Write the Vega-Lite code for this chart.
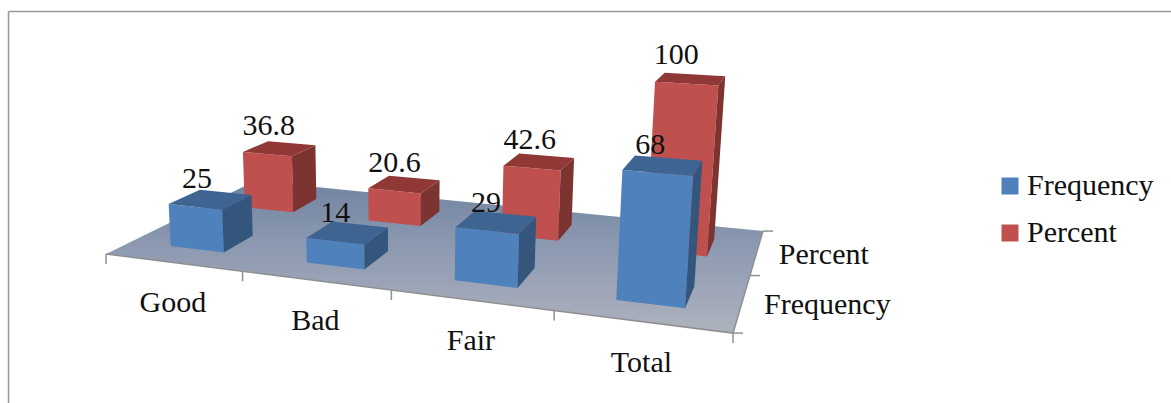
{"$schema":"https://vega.github.io/schema/vega-lite/v6.json","width":1163,"height":392,"padding":{"left":8,"top":11,"right":0,"bottom":0},"autosize":"none","background":"white","config":{"view":{"stroke":null}},
"datasets":{"bars":[{"category":"Good","idx":0,"series":"Frequency","sv":0.2425,"value":25},{"category":"Bad","idx":1,"series":"Frequency","sv":0.2425,"value":14},{"category":"Fair","idx":2,"series":"Frequency","sv":0.2425,"value":29},{"category":"Total","idx":3,"series":"Frequency","sv":0.2425,"value":68},{"category":"Good","idx":0,"series":"Percent","sv":0.7425,"value":36.8},{"category":"Bad","idx":1,"series":"Percent","sv":0.7425,"value":20.6},{"category":"Fair","idx":2,"series":"Percent","sv":0.7425,"value":42.6},{"category":"Total","idx":3,"series":"Percent","sv":0.7425,"value":100}],
"floor":[{"u":0,"v":0,"ord":0},{"u":1,"v":0,"ord":1},{"u":1,"v":1,"ord":2},{"u":0,"v":1,"ord":3},{"u":0,"v":0,"ord":4}],
"xticks":[{"u":0,"v":0},{"u":0.25,"v":0},{"u":0.5,"v":0},{"u":0.75,"v":0},{"u":1,"v":0}],
"vticks":[{"u":1,"v":0},{"u":1,"v":0.5},{"u":1,"v":1}],
"series":[{"name":"Frequency","u":1,"v":0.25},{"name":"Percent","u":1,"v":0.75}]},
"encoding":{"x":{"field":"px","type":"quantitative","scale":{"domain":[8,1171],"nice":false,"zero":false},"axis":{"orient":"top","title":null,"labels":false,"ticks":false,"grid":false,"domain":true,"domainColor":"#999999","domainWidth":1.5}},"y":{"field":"py","type":"quantitative","scale":{"domain":[11,403],"reverse":true,"nice":false,"zero":false},"axis":{"orient":"left","title":null,"labels":false,"ticks":false,"grid":false,"domain":true,"domainColor":"#999999","domainWidth":1.5}}},
"layer":[
{"data":{"name":"floor"},"transform":[{"calculate":"1-0.1647*datum.u+0.244*datum.v","as":"w"},{"calculate":"(506.3*datum.u+211.2*datum.v+106)/datum.w","as":"px"},{"calculate":"(24.2*datum.u-28.8*datum.v+254)/datum.w","as":"py"}],
"mark":{"type":"line","interpolate":"linear","strokeWidth":0,"fill":{"x1":0,"y1":0,"x2":0,"y2":1,"gradient":"linear","stops":[{"offset":0,"color":"#71849f"},{"offset":0.45,"color":"#8e9ab2"},{"offset":1,"color":"#aeb2bd"}]}},"encoding":{"order":{"field":"ord"}}},
{"data":{"name":"floor"},"transform":[{"filter":"datum.ord<=2"},{"calculate":"1-0.1647*datum.u+0.244*datum.v","as":"w"},{"calculate":"(506.3*datum.u+211.2*datum.v+106)/datum.w","as":"px"},{"calculate":"(24.2*datum.u-28.8*datum.v+254)/datum.w","as":"py"}],
"mark":{"type":"line","stroke":"#8f8f8f","strokeWidth":1.5},"encoding":{"order":{"field":"ord"}}},
{"data":{"name":"xticks"},"transform":[{"calculate":"1-0.1647*datum.u+0.244*datum.v","as":"w"},{"calculate":"(506.3*datum.u+211.2*datum.v+106)/datum.w","as":"px"},{"calculate":"(24.2*datum.u-28.8*datum.v+254)/datum.w","as":"py"},{"calculate":"datum.py+10","as":"py2"}],
"mark":{"type":"rule","stroke":"#8f8f8f","strokeWidth":1.5},"encoding":{"y2":{"field":"py2"}}},
{"data":{"name":"vticks"},"transform":[{"calculate":"1-0.1647*datum.u+0.244*datum.v","as":"w"},{"calculate":"(506.3*datum.u+211.2*datum.v+106)/datum.w","as":"px"},{"calculate":"(24.2*datum.u-28.8*datum.v+254)/datum.w","as":"py"},{"calculate":"datum.px+10","as":"px2"}],
"mark":{"type":"rule","stroke":"#8f8f8f","strokeWidth":1.5},"encoding":{"x2":{"field":"px2"}}},
{"data":{"name":"bars"},"transform":[{"filter":"datum.series==='Percent'"},{"calculate":"[{f:'',a:-1,b:0,t:0,o:0},{f:'',a:1,b:0,t:0,o:1},{f:'',a:1,b:0,t:1,o:2},{f:'',a:-1,b:0,t:1,o:3},{f:' side',a:1,b:0,t:0,o:0},{f:' side',a:1,b:1,t:0,o:1},{f:' side',a:1,b:1,t:1,o:2},{f:' side',a:1,b:0,t:1,o:3},{f:' top',a:-1,b:0,t:1,o:0},{f:' top',a:1,b:0,t:1,o:1},{f:' top',a:1,b:1,t:1,o:2},{f:' top',a:-1,b:1,t:1,o:3}]","as":"c"},{"flatten":["c"]},{"calculate":"datum.series+datum.c.f","as":"fk"},{"calculate":"0.125+0.25*datum.idx+0.05*datum.c.a","as":"u"},{"calculate":"datum.sv-0.0975+0.195*datum.c.b","as":"v"},{"calculate":"1-0.1647*datum.u+0.244*datum.v","as":"w"},{"calculate":"(506.3*datum.u+211.2*datum.v+106)/datum.w","as":"x0"},{"calculate":"(24.2*datum.u-28.8*datum.v+254)/datum.w","as":"y0"},{"calculate":"1.72*datum.value*datum.c.t/datum.w","as":"hp"},{"calculate":"datum.x0+datum.hp*0.000213*(datum.x0-395)","as":"px"},{"calculate":"datum.y0-datum.hp","as":"py"},{"calculate":"datum.c.o","as":"ord"},{"calculate":"datum.category+datum.fk","as":"poly"}],
"mark":{"type":"line","strokeWidth":0,"fill":"#c0504d"},"encoding":{"detail":{"field":"poly"},"order":{"field":"ord"},"fill":{"field":"fk","type":"nominal","scale":{"domain":["Frequency","Percent","Frequency side","Frequency top","Percent side","Percent top"],"range":["#4f81bd","#c0504d","#34557c","#3e6592","#7d332f","#8f3836"]},"legend":{"values":["Frequency","Percent"],"orient":"none","legendX":987,"legendY":160,"title":null,"symbolType":"square","symbolSize":289,"symbolStrokeWidth":0,"labelFont":"Liberation Serif","labelFontSize":30,"labelColor":"#111111","labelOffset":2,"rowPadding":17,"labelLimit":300}}}},
{"data":{"name":"bars"},"transform":[{"filter":"datum.series==='Frequency'"},{"calculate":"[{f:'',a:-1,b:0,t:0,o:0},{f:'',a:1,b:0,t:0,o:1},{f:'',a:1,b:0,t:1,o:2},{f:'',a:-1,b:0,t:1,o:3},{f:' side',a:1,b:0,t:0,o:0},{f:' side',a:1,b:1,t:0,o:1},{f:' side',a:1,b:1,t:1,o:2},{f:' side',a:1,b:0,t:1,o:3},{f:' top',a:-1,b:0,t:1,o:0},{f:' top',a:1,b:0,t:1,o:1},{f:' top',a:1,b:1,t:1,o:2},{f:' top',a:-1,b:1,t:1,o:3}]","as":"c"},{"flatten":["c"]},{"calculate":"datum.series+datum.c.f","as":"fk"},{"calculate":"0.125+0.25*datum.idx+0.05*datum.c.a","as":"u"},{"calculate":"datum.sv-0.0975+0.195*datum.c.b","as":"v"},{"calculate":"1-0.1647*datum.u+0.244*datum.v","as":"w"},{"calculate":"(506.3*datum.u+211.2*datum.v+106)/datum.w","as":"x0"},{"calculate":"(24.2*datum.u-28.8*datum.v+254)/datum.w","as":"y0"},{"calculate":"1.72*datum.value*datum.c.t/datum.w","as":"hp"},{"calculate":"datum.x0+datum.hp*0.000213*(datum.x0-395)","as":"px"},{"calculate":"datum.y0-datum.hp","as":"py"},{"calculate":"datum.c.o","as":"ord"},{"calculate":"datum.category+datum.fk","as":"poly"}],
"mark":{"type":"line","strokeWidth":0,"fill":"#4f81bd"},"encoding":{"detail":{"field":"poly"},"order":{"field":"ord"},"fill":{"field":"fk","type":"nominal"}}},
{"data":{"name":"bars"},"transform":[{"calculate":"0.125+0.25*datum.idx","as":"u"},{"calculate":"datum.sv-0.0975","as":"v"},{"calculate":"1-0.1647*datum.u+0.244*datum.v","as":"w"},{"calculate":"(506.3*datum.u+211.2*datum.v+106)/datum.w","as":"px"},{"calculate":"(24.2*datum.u-28.8*datum.v+254)/datum.w","as":"y0"},{"calculate":"(24.2*datum.u-28.8*datum.v+254-1.72*datum.value)/datum.w","as":"py"}],
"mark":{"type":"text","font":"Liberation Serif","fontSize":30,"color":"#111111","baseline":"middle","align":"center","dy":-28},"encoding":{"text":{"field":"value","type":"quantitative"}}},
{"data":{"values":[{"category":"Good","u":0.125},{"category":"Bad","u":0.375},{"category":"Fair","u":0.625},{"category":"Total","u":0.875}]},"transform":[{"calculate":"1-0.1647*datum.u","as":"w"},{"calculate":"(506.3*datum.u+106)/datum.w","as":"px"},{"calculate":"(24.2*datum.u+254)/datum.w","as":"py"}],
"mark":{"type":"text","font":"Liberation Serif","fontSize":30,"color":"#111111","baseline":"middle","align":"center","dy":41},"encoding":{"text":{"field":"category"}}},
{"data":{"name":"series"},"transform":[{"calculate":"1-0.1647*datum.u+0.244*datum.v","as":"w"},{"calculate":"(506.3*datum.u+211.2*datum.v+106)/datum.w","as":"px"},{"calculate":"(24.2*datum.u-28.8*datum.v+254)/datum.w","as":"py"}],
"mark":{"type":"text","font":"Liberation Serif","fontSize":30,"color":"#111111","baseline":"middle","align":"left","dx":22,"dy":3},"encoding":{"text":{"field":"name"}}}
]}
